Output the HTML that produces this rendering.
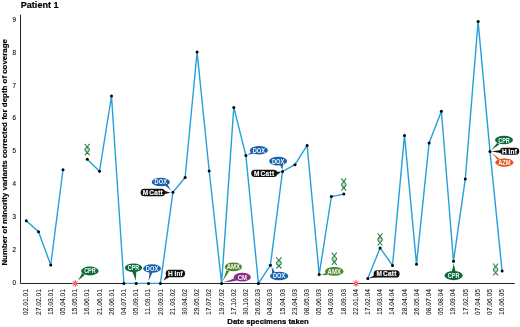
<!DOCTYPE html><html><head><meta charset="utf-8"><style>html,body{margin:0;padding:0;background:#fff;width:520px;height:327px;overflow:hidden}svg{display:block;will-change:transform}text{font-family:"Liberation Sans",sans-serif}</style></head><body>
<svg width="520" height="327" viewBox="0 0 520 327">
<text x="20.8" y="7.9" font-size="8.4" font-weight="bold" fill="#000" stroke="#000" stroke-width="0.2" textLength="37.7" lengthAdjust="spacingAndGlyphs">Patient 1</text>
<text transform="translate(6.8,265.6) rotate(-90)" font-size="6.9" font-weight="bold" fill="#000" stroke="#000" stroke-width="0.15" textLength="226.5" lengthAdjust="spacingAndGlyphs">Number of minority variants corrected for depth of coverage</text>
<text transform="translate(16.1,21.85) scale(0.85,1)" font-size="7.4" fill="#111" stroke="#111" stroke-width="0.15" text-anchor="end">9</text>
<text transform="translate(16.1,54.69) scale(0.85,1)" font-size="7.4" fill="#111" stroke="#111" stroke-width="0.15" text-anchor="end">8</text>
<text transform="translate(16.1,87.53) scale(0.85,1)" font-size="7.4" fill="#111" stroke="#111" stroke-width="0.15" text-anchor="end">7</text>
<text transform="translate(16.1,120.37) scale(0.85,1)" font-size="7.4" fill="#111" stroke="#111" stroke-width="0.15" text-anchor="end">6</text>
<text transform="translate(16.1,153.21) scale(0.85,1)" font-size="7.4" fill="#111" stroke="#111" stroke-width="0.15" text-anchor="end">5</text>
<text transform="translate(16.1,186.05) scale(0.85,1)" font-size="7.4" fill="#111" stroke="#111" stroke-width="0.15" text-anchor="end">4</text>
<text transform="translate(16.1,218.89) scale(0.85,1)" font-size="7.4" fill="#111" stroke="#111" stroke-width="0.15" text-anchor="end">3</text>
<text transform="translate(16.1,251.73) scale(0.85,1)" font-size="7.4" fill="#111" stroke="#111" stroke-width="0.15" text-anchor="end">2</text>
<text transform="translate(16.1,284.85) scale(0.85,1)" font-size="7.4" fill="#111" stroke="#111" stroke-width="0.15" text-anchor="end">0</text>
<path d="M20.5,14.7 V283.5 H514.8" fill="none" stroke="#222" stroke-width="1"/>
<text transform="translate(28.30,315.1) rotate(-90)" font-size="7.25" fill="#111" stroke="#111" stroke-width="0.05" textLength="26.2" lengthAdjust="spacingAndGlyphs">02.01.01</text>
<text transform="translate(40.50,315.1) rotate(-90)" font-size="7.25" fill="#111" stroke="#111" stroke-width="0.05" textLength="26.2" lengthAdjust="spacingAndGlyphs">27.02.01</text>
<text transform="translate(52.70,315.1) rotate(-90)" font-size="7.25" fill="#111" stroke="#111" stroke-width="0.05" textLength="26.2" lengthAdjust="spacingAndGlyphs">15.03.01</text>
<text transform="translate(64.90,315.1) rotate(-90)" font-size="7.25" fill="#111" stroke="#111" stroke-width="0.05" textLength="26.2" lengthAdjust="spacingAndGlyphs">05.04.01</text>
<text transform="translate(77.10,315.1) rotate(-90)" font-size="7.25" fill="#111" stroke="#111" stroke-width="0.05" textLength="26.2" lengthAdjust="spacingAndGlyphs">15.05.01</text>
<text transform="translate(89.30,315.1) rotate(-90)" font-size="7.25" fill="#111" stroke="#111" stroke-width="0.05" textLength="26.2" lengthAdjust="spacingAndGlyphs">16.06.01</text>
<text transform="translate(101.50,315.1) rotate(-90)" font-size="7.25" fill="#111" stroke="#111" stroke-width="0.05" textLength="26.2" lengthAdjust="spacingAndGlyphs">21.06.01</text>
<text transform="translate(113.70,315.1) rotate(-90)" font-size="7.25" fill="#111" stroke="#111" stroke-width="0.05" textLength="26.2" lengthAdjust="spacingAndGlyphs">26.06.01</text>
<text transform="translate(125.90,315.1) rotate(-90)" font-size="7.25" fill="#111" stroke="#111" stroke-width="0.05" textLength="26.2" lengthAdjust="spacingAndGlyphs">04.07.01</text>
<text transform="translate(138.10,315.1) rotate(-90)" font-size="7.25" fill="#111" stroke="#111" stroke-width="0.05" textLength="26.2" lengthAdjust="spacingAndGlyphs">05.09.01</text>
<text transform="translate(150.30,315.1) rotate(-90)" font-size="7.25" fill="#111" stroke="#111" stroke-width="0.05" textLength="26.2" lengthAdjust="spacingAndGlyphs">11.09.01</text>
<text transform="translate(162.50,315.1) rotate(-90)" font-size="7.25" fill="#111" stroke="#111" stroke-width="0.05" textLength="26.2" lengthAdjust="spacingAndGlyphs">20.09.01</text>
<text transform="translate(174.70,315.1) rotate(-90)" font-size="7.25" fill="#111" stroke="#111" stroke-width="0.05" textLength="26.2" lengthAdjust="spacingAndGlyphs">21.03.02</text>
<text transform="translate(186.90,315.1) rotate(-90)" font-size="7.25" fill="#111" stroke="#111" stroke-width="0.05" textLength="26.2" lengthAdjust="spacingAndGlyphs">30.04.02</text>
<text transform="translate(199.10,315.1) rotate(-90)" font-size="7.25" fill="#111" stroke="#111" stroke-width="0.05" textLength="26.2" lengthAdjust="spacingAndGlyphs">29.05.02</text>
<text transform="translate(211.30,315.1) rotate(-90)" font-size="7.25" fill="#111" stroke="#111" stroke-width="0.05" textLength="26.2" lengthAdjust="spacingAndGlyphs">17.07.02</text>
<text transform="translate(223.50,315.1) rotate(-90)" font-size="7.25" fill="#111" stroke="#111" stroke-width="0.05" textLength="26.2" lengthAdjust="spacingAndGlyphs">19.07.02</text>
<text transform="translate(235.70,315.1) rotate(-90)" font-size="7.25" fill="#111" stroke="#111" stroke-width="0.05" textLength="26.2" lengthAdjust="spacingAndGlyphs">17.10.02</text>
<text transform="translate(247.90,315.1) rotate(-90)" font-size="7.25" fill="#111" stroke="#111" stroke-width="0.05" textLength="26.2" lengthAdjust="spacingAndGlyphs">30.10.02</text>
<text transform="translate(260.10,315.1) rotate(-90)" font-size="7.25" fill="#111" stroke="#111" stroke-width="0.05" textLength="26.2" lengthAdjust="spacingAndGlyphs">26.02.03</text>
<text transform="translate(272.30,315.1) rotate(-90)" font-size="7.25" fill="#111" stroke="#111" stroke-width="0.05" textLength="26.2" lengthAdjust="spacingAndGlyphs">04.03.03</text>
<text transform="translate(284.50,315.1) rotate(-90)" font-size="7.25" fill="#111" stroke="#111" stroke-width="0.05" textLength="26.2" lengthAdjust="spacingAndGlyphs">15.04.03</text>
<text transform="translate(296.70,315.1) rotate(-90)" font-size="7.25" fill="#111" stroke="#111" stroke-width="0.05" textLength="26.2" lengthAdjust="spacingAndGlyphs">23.04.03</text>
<text transform="translate(308.90,315.1) rotate(-90)" font-size="7.25" fill="#111" stroke="#111" stroke-width="0.05" textLength="26.2" lengthAdjust="spacingAndGlyphs">08.05.03</text>
<text transform="translate(321.10,315.1) rotate(-90)" font-size="7.25" fill="#111" stroke="#111" stroke-width="0.05" textLength="26.2" lengthAdjust="spacingAndGlyphs">05.06.03</text>
<text transform="translate(333.30,315.1) rotate(-90)" font-size="7.25" fill="#111" stroke="#111" stroke-width="0.05" textLength="26.2" lengthAdjust="spacingAndGlyphs">04.09.03</text>
<text transform="translate(345.50,315.1) rotate(-90)" font-size="7.25" fill="#111" stroke="#111" stroke-width="0.05" textLength="26.2" lengthAdjust="spacingAndGlyphs">18.09.03</text>
<text transform="translate(357.70,315.1) rotate(-90)" font-size="7.25" fill="#111" stroke="#111" stroke-width="0.05" textLength="26.2" lengthAdjust="spacingAndGlyphs">22.01.04</text>
<text transform="translate(369.90,315.1) rotate(-90)" font-size="7.25" fill="#111" stroke="#111" stroke-width="0.05" textLength="26.2" lengthAdjust="spacingAndGlyphs">17.02.04</text>
<text transform="translate(382.10,315.1) rotate(-90)" font-size="7.25" fill="#111" stroke="#111" stroke-width="0.05" textLength="26.2" lengthAdjust="spacingAndGlyphs">15.03.04</text>
<text transform="translate(394.30,315.1) rotate(-90)" font-size="7.25" fill="#111" stroke="#111" stroke-width="0.05" textLength="26.2" lengthAdjust="spacingAndGlyphs">14.04.04</text>
<text transform="translate(406.50,315.1) rotate(-90)" font-size="7.25" fill="#111" stroke="#111" stroke-width="0.05" textLength="26.2" lengthAdjust="spacingAndGlyphs">28.04.04</text>
<text transform="translate(418.70,315.1) rotate(-90)" font-size="7.25" fill="#111" stroke="#111" stroke-width="0.05" textLength="26.2" lengthAdjust="spacingAndGlyphs">26.05.04</text>
<text transform="translate(430.90,315.1) rotate(-90)" font-size="7.25" fill="#111" stroke="#111" stroke-width="0.05" textLength="26.2" lengthAdjust="spacingAndGlyphs">08.07.04</text>
<text transform="translate(443.10,315.1) rotate(-90)" font-size="7.25" fill="#111" stroke="#111" stroke-width="0.05" textLength="26.2" lengthAdjust="spacingAndGlyphs">05.08.04</text>
<text transform="translate(455.30,315.1) rotate(-90)" font-size="7.25" fill="#111" stroke="#111" stroke-width="0.05" textLength="26.2" lengthAdjust="spacingAndGlyphs">19.09.04</text>
<text transform="translate(467.50,315.1) rotate(-90)" font-size="7.25" fill="#111" stroke="#111" stroke-width="0.05" textLength="26.2" lengthAdjust="spacingAndGlyphs">17.02.05</text>
<text transform="translate(479.70,315.1) rotate(-90)" font-size="7.25" fill="#111" stroke="#111" stroke-width="0.05" textLength="26.2" lengthAdjust="spacingAndGlyphs">07.04.05</text>
<text transform="translate(491.90,315.1) rotate(-90)" font-size="7.25" fill="#111" stroke="#111" stroke-width="0.05" textLength="26.2" lengthAdjust="spacingAndGlyphs">07.06.05</text>
<text transform="translate(504.10,315.1) rotate(-90)" font-size="7.25" fill="#111" stroke="#111" stroke-width="0.05" textLength="26.2" lengthAdjust="spacingAndGlyphs">16.06.05</text>
<text x="227.3" y="324.2" font-size="7.9" font-weight="bold" fill="#000" stroke="#000" stroke-width="0.2" textLength="81.5" lengthAdjust="spacingAndGlyphs">Date specimens taken</text>
<polyline points="26.25,220.75 38.5,231.75 50.75,265 63,169.75" fill="none" stroke="#25a0db" stroke-width="1.4" stroke-linejoin="miter"/>
<polyline points="87.25,159.25 99.5,171.25 111.5,96 123.9,283.4 136.2,283.4 148.5,283.4 160.4,283.4 172.9,192.3 185.1,177.5 197.1,52.1 209.2,171 221.6,283.4 233.8,107.4 245.9,155.6 258.4,283.4 270.4,265.3 282.5,171.5 295,164.7 307.1,145.4 319.2,274.6 331.4,196.5 343.8,194.1" fill="none" stroke="#25a0db" stroke-width="1.4" stroke-linejoin="miter"/>
<polyline points="367.8,278.5 380.1,247.9 392.5,265.5 404.5,135.4 416.5,264.3 429.1,143.0 441.4,111.3 453.5,261.2 465.3,178.9 478.1,21.6 490,151.4 502.1,271.1" fill="none" stroke="#25a0db" stroke-width="1.4" stroke-linejoin="miter"/>
<circle cx="26.25" cy="220.75" r="1.5" fill="#000"/>
<circle cx="38.5" cy="231.75" r="1.5" fill="#000"/>
<circle cx="50.75" cy="265" r="1.5" fill="#000"/>
<circle cx="63" cy="169.75" r="1.5" fill="#000"/>
<circle cx="87.25" cy="159.25" r="1.5" fill="#000"/>
<circle cx="99.5" cy="171.25" r="1.5" fill="#000"/>
<circle cx="111.5" cy="96" r="1.5" fill="#000"/>
<circle cx="123.9" cy="283.4" r="1.5" fill="#000"/>
<circle cx="136.2" cy="283.4" r="1.5" fill="#000"/>
<circle cx="148.5" cy="283.4" r="1.5" fill="#000"/>
<circle cx="160.4" cy="283.4" r="1.5" fill="#000"/>
<circle cx="172.9" cy="192.3" r="1.5" fill="#000"/>
<circle cx="185.1" cy="177.5" r="1.5" fill="#000"/>
<circle cx="197.1" cy="52.1" r="1.5" fill="#000"/>
<circle cx="209.2" cy="171" r="1.5" fill="#000"/>
<circle cx="221.6" cy="283.4" r="1.5" fill="#000"/>
<circle cx="233.8" cy="107.4" r="1.5" fill="#000"/>
<circle cx="245.9" cy="155.6" r="1.5" fill="#000"/>
<circle cx="258.4" cy="283.4" r="1.5" fill="#000"/>
<circle cx="270.4" cy="265.3" r="1.5" fill="#000"/>
<circle cx="282.5" cy="171.5" r="1.5" fill="#000"/>
<circle cx="295" cy="164.7" r="1.5" fill="#000"/>
<circle cx="307.1" cy="145.4" r="1.5" fill="#000"/>
<circle cx="319.2" cy="274.6" r="1.5" fill="#000"/>
<circle cx="331.4" cy="196.5" r="1.5" fill="#000"/>
<circle cx="343.8" cy="194.1" r="1.5" fill="#000"/>
<circle cx="367.8" cy="278.5" r="1.5" fill="#000"/>
<circle cx="380.1" cy="247.9" r="1.5" fill="#000"/>
<circle cx="392.5" cy="265.5" r="1.5" fill="#000"/>
<circle cx="404.5" cy="135.4" r="1.5" fill="#000"/>
<circle cx="416.5" cy="264.3" r="1.5" fill="#000"/>
<circle cx="429.1" cy="143.0" r="1.5" fill="#000"/>
<circle cx="441.4" cy="111.3" r="1.5" fill="#000"/>
<circle cx="453.5" cy="261.2" r="1.5" fill="#000"/>
<circle cx="465.3" cy="178.9" r="1.5" fill="#000"/>
<circle cx="478.1" cy="21.6" r="1.5" fill="#000"/>
<circle cx="490" cy="151.4" r="1.5" fill="#000"/>
<circle cx="502.1" cy="271.1" r="1.5" fill="#000"/>
<circle cx="75.2" cy="283.5" r="2.9000000000000004" fill="#fff"/><path d="M75.75,283.50 L78.40,283.50 M75.59,283.89 L77.46,285.76 M75.20,284.05 L75.20,286.70 M74.81,283.89 L72.94,285.76 M74.65,283.50 L72.00,283.50 M74.81,283.11 L72.94,281.24 M75.20,282.95 L75.20,280.30 M75.59,283.11 L77.46,281.24" stroke="#e42a3e" stroke-width="1.0" fill="none"/>
<circle cx="356.0" cy="283.5" r="2.9000000000000004" fill="#fff"/><path d="M356.55,283.50 L359.20,283.50 M356.39,283.89 L358.26,285.76 M356.00,284.05 L356.00,286.70 M355.61,283.89 L353.74,285.76 M355.45,283.50 L352.80,283.50 M355.61,283.11 L353.74,281.24 M356.00,282.95 L356.00,280.30 M356.39,283.11 L358.26,281.24" stroke="#e42a3e" stroke-width="1.0" fill="none"/>
<path d="M81.8,273.2 Q80.33,277.09 77.9,280.5 Q81.77,277.81 85,274.8 Z" fill="#0e6a3a"/><ellipse cx="89.85" cy="271.0" rx="8.8" ry="4.3999999999999995" fill="#0e6a3a"/><text x="89.85" y="273.45" font-size="6.6" font-weight="bold" fill="#f4f8ff" stroke="#f4f8ff" stroke-width="0" text-anchor="middle" textLength="11.4" lengthAdjust="spacingAndGlyphs">CPR</text>
<path d="M132,271.3 Q134.40,276.05 135.5,280.8 Q136.33,276.05 136.3,271.3 Z" fill="#0e6a3a"/><ellipse cx="133.5" cy="267.75" rx="8.7" ry="4.35" fill="#0e6a3a"/><text x="133.5" y="270.20" font-size="6.6" font-weight="bold" fill="#f4f8ff" stroke="#f4f8ff" stroke-width="0" text-anchor="middle" textLength="11.4" lengthAdjust="spacingAndGlyphs">CPR</text>
<path d="M149.4,272 Q149.41,276.43 148.5,280.8 Q150.81,276.52 152.5,272.2 Z" fill="#1862ad"/><ellipse cx="152.05" cy="268.55" rx="8.9" ry="4.3" fill="#1862ad"/><text x="152.05" y="271.00" font-size="6.6" font-weight="bold" fill="#f4f8ff" stroke="#f4f8ff" stroke-width="0" text-anchor="middle" textLength="12.4" lengthAdjust="spacingAndGlyphs">DOX</text>
<path d="M166.2,275.5 Q165.19,278.28 163.2,280.6 Q166.68,278.95 169.5,277 Z" fill="#111"/><rect x="165.7" y="269.8" width="19.40" height="7.50" rx="3.75" ry="3.75" fill="#111"/><text x="175.40" y="275.95" font-size="6.5" font-weight="bold" fill="#fff" stroke="#fff" stroke-width="0.1" style="word-spacing:-0.4px;letter-spacing:0.2px" text-anchor="middle">H Inf</text>
<path d="M164.5,185 Q168.20,187.83 171,190.8 Q169.55,187.60 167.5,184.5 Z" fill="#1862ad"/><ellipse cx="160.8" cy="181.95" rx="9.1" ry="4.3" fill="#1862ad"/><text x="160.8" y="184.40" font-size="6.6" font-weight="bold" fill="#f4f8ff" stroke="#f4f8ff" stroke-width="0" text-anchor="middle" textLength="12.4" lengthAdjust="spacingAndGlyphs">DOX</text>
<path d="M164.5,190.8 Q167.45,192.13 170.4,192.5 Q167.45,193.57 164.5,194 Z" fill="#111"/><rect x="140.6" y="188.8" width="24.60" height="7.40" rx="3.70" ry="3.70" fill="#111"/><text x="152.90" y="194.90" font-size="6.5" font-weight="bold" fill="#fff" stroke="#fff" stroke-width="0.1" style="word-spacing:-1.3px;letter-spacing:0.3px" text-anchor="middle">M Catt</text>
<path d="M226.4,270.3 Q224.90,275.91 222.5,281.3 Q226.25,276.22 229.4,271 Z" fill="#4e8a2c"/><ellipse cx="233.4" cy="266.95" rx="8.6" ry="4.35" fill="#4e8a2c"/><text x="233.4" y="269.40" font-size="6.6" font-weight="bold" fill="#f4f8ff" stroke="#f4f8ff" stroke-width="0" text-anchor="middle" textLength="13.4" lengthAdjust="spacingAndGlyphs">AMX</text>
<path d="M234.5,278.2 Q229.30,280.57 223.5,282.2 Q230.20,281.70 236.5,280.7 Z" fill="#8d2b88"/><ellipse cx="242.3" cy="277.2" rx="8.5" ry="4.35" fill="#8d2b88"/><text x="242.3" y="279.65" font-size="6.6" font-weight="bold" fill="#f4f8ff" stroke="#f4f8ff" stroke-width="0" text-anchor="middle" textLength="9.2" lengthAdjust="spacingAndGlyphs">CM</text>
<path d="M251,152 Q249.62,153.74 247.5,155 Q250.75,154.46 253.5,153.6 Z" fill="#1862ad"/><ellipse cx="258.9" cy="150.25" rx="9.0" ry="4.25" fill="#1862ad"/><text x="258.9" y="152.70" font-size="6.6" font-weight="bold" fill="#f4f8ff" stroke="#f4f8ff" stroke-width="0" text-anchor="middle" textLength="12.4" lengthAdjust="spacingAndGlyphs">DOX</text>
<path d="M280,164.8 Q281.60,167.33 282.3,170 Q282.95,167.10 283,164.3 Z" fill="#1862ad"/><ellipse cx="278.1" cy="161.1" rx="9.0" ry="4.3" fill="#1862ad"/><text x="278.1" y="163.55" font-size="6.6" font-weight="bold" fill="#f4f8ff" stroke="#f4f8ff" stroke-width="0" text-anchor="middle" textLength="12.4" lengthAdjust="spacingAndGlyphs">DOX</text>
<path d="M276.5,171.5 Q279.00,172.08 281.5,171.6 Q279.00,173.65 276.5,175 Z" fill="#111"/><rect x="251.2" y="169.7" width="26.10" height="7.30" rx="3.65" ry="3.65" fill="#111"/><text x="264.25" y="175.75" font-size="6.5" font-weight="bold" fill="#fff" stroke="#fff" stroke-width="0.1" style="word-spacing:-1.3px;letter-spacing:0.3px" text-anchor="middle">M Catt</text>
<path d="M272,273.6 Q272.15,269.88 271.4,266.5 Q273.50,269.39 275,272.5 Z" fill="#1862ad"/><ellipse cx="279.1" cy="276.0" rx="9.2" ry="4.25" fill="#1862ad"/><text x="279.1" y="278.45" font-size="6.6" font-weight="bold" fill="#f4f8ff" stroke="#f4f8ff" stroke-width="0" text-anchor="middle" textLength="12.4" lengthAdjust="spacingAndGlyphs">DOX</text>
<path d="M326,272.8 Q323.48,274.16 320.5,274.8 Q324.15,275.24 327.5,275.2 Z" fill="#4e8a2c"/><ellipse cx="334.3" cy="271.4" rx="9.3" ry="4.3999999999999995" fill="#4e8a2c"/><text x="334.3" y="273.85" font-size="6.6" font-weight="bold" fill="#f4f8ff" stroke="#f4f8ff" stroke-width="0" text-anchor="middle" textLength="13.4" lengthAdjust="spacingAndGlyphs">AMX</text>
<path d="M374.5,275 Q372.02,277.00 368.8,278.3 Q373.15,278.03 377,277.3 Z" fill="#111"/><rect x="373.6" y="270.3" width="26.00" height="7.20" rx="3.60" ry="3.60" fill="#111"/><text x="386.60" y="276.30" font-size="6.5" font-weight="bold" fill="#fff" stroke="#fff" stroke-width="0.1" style="word-spacing:-1.3px;letter-spacing:0.3px" text-anchor="middle">M Catt</text>
<path d="M451.6,271.8 Q453.13,267.65 453.5,263.5 Q454.89,267.65 455.5,271.8 Z" fill="#0e6a3a"/><ellipse cx="453.6" cy="275.6" rx="9.1" ry="4.6" fill="#0e6a3a"/><text x="453.6" y="278.05" font-size="6.6" font-weight="bold" fill="#f4f8ff" stroke="#f4f8ff" stroke-width="0" text-anchor="middle" textLength="11.6" lengthAdjust="spacingAndGlyphs">CPR</text>
<path d="M497,143 Q494.38,146.83 491,150.3 Q495.50,147.37 499.5,144.2 Z" fill="#0e6a3a"/><ellipse cx="504.0" cy="140.1" rx="8.95" ry="4.25" fill="#0e6a3a"/><text x="504.0" y="142.55" font-size="6.6" font-weight="bold" fill="#f4f8ff" stroke="#f4f8ff" stroke-width="0" text-anchor="middle" textLength="11.6" lengthAdjust="spacingAndGlyphs">CPR</text>
<path d="M500.5,150 Q496.00,151.10 491.5,151.3 Q496.00,152.45 500.5,153 Z" fill="#111"/><rect x="500.0" y="147.8" width="19.25" height="6.90" rx="3.45" ry="3.45" fill="#111"/><text x="509.62" y="153.65" font-size="6.5" font-weight="bold" fill="#fff" stroke="#fff" stroke-width="0.1" style="word-spacing:-0.4px;letter-spacing:0.2px" text-anchor="middle">H Inf</text>
<path d="M497.5,159.8 Q494.62,156.11 491,152.6 Q495.75,155.84 500,159.2 Z" fill="#e2561e"/><ellipse cx="504.4" cy="162.6" rx="9.1" ry="4.1" fill="#e2561e"/><text x="504.4" y="165.05" font-size="6.6" font-weight="bold" fill="#f4f8ff" stroke="#f4f8ff" stroke-width="0" text-anchor="middle" textLength="12.4" lengthAdjust="spacingAndGlyphs">AZM</text>
<ellipse cx="87.20" cy="149.73" rx="1.69" ry="2.05" fill="#b2e4c0"/><path d="M84.80,143.80 L87.20,146.99 C88.55,148.22 89.46,148.50 89.46,149.73 C89.46,150.96 88.55,151.23 87.20,152.46 L84.80,155.20 M89.60,143.80 L87.20,146.99 C85.85,148.22 84.94,148.50 84.94,149.73 C84.94,150.96 85.85,151.23 87.20,152.46 L89.60,155.20" fill="none" stroke="#2a8048" stroke-width="1.1" stroke-linejoin="round"/>
<ellipse cx="278.90" cy="263.17" rx="1.83" ry="2.00" fill="#b2e4c0"/><path d="M276.30,257.40 L278.90,260.51 C280.37,261.71 281.34,261.97 281.34,263.17 C281.34,264.37 280.37,264.64 278.90,265.84 L276.30,268.50 M281.50,257.40 L278.90,260.51 C277.43,261.71 276.46,261.97 276.46,263.17 C276.46,264.37 277.43,264.64 278.90,265.84 L281.50,268.50" fill="none" stroke="#2a8048" stroke-width="1.1" stroke-linejoin="round"/>
<ellipse cx="334.30" cy="258.94" rx="1.69" ry="2.20" fill="#b2e4c0"/><path d="M331.90,252.60 L334.30,256.02 C335.65,257.33 336.56,257.63 336.56,258.94 C336.56,260.26 335.65,260.55 334.30,261.87 L331.90,264.80 M336.70,252.60 L334.30,256.02 C332.95,257.33 332.04,257.63 332.04,258.94 C332.04,260.26 332.95,260.55 334.30,261.87 L336.70,264.80" fill="none" stroke="#2a8048" stroke-width="1.1" stroke-linejoin="round"/>
<ellipse cx="343.80" cy="184.74" rx="1.69" ry="2.20" fill="#b2e4c0"/><path d="M341.40,178.40 L343.80,181.82 C345.15,183.13 346.06,183.43 346.06,184.74 C346.06,186.06 345.15,186.35 343.80,187.67 L341.40,190.60 M346.20,178.40 L343.80,181.82 C342.45,183.13 341.54,183.43 341.54,184.74 C341.54,186.06 342.45,186.35 343.80,187.67 L346.20,190.60" fill="none" stroke="#2a8048" stroke-width="1.1" stroke-linejoin="round"/>
<ellipse cx="380.10" cy="239.60" rx="1.69" ry="2.21" fill="#b2e4c0"/><path d="M377.70,233.20 L380.10,236.64 C381.45,237.97 382.36,238.27 382.36,239.60 C382.36,240.92 381.45,241.22 380.10,242.55 L377.70,245.50 M382.50,233.20 L380.10,236.64 C378.75,237.97 377.84,238.27 377.84,239.60 C377.84,240.92 378.75,241.22 380.10,242.55 L382.50,245.50" fill="none" stroke="#2a8048" stroke-width="1.1" stroke-linejoin="round"/>
<ellipse cx="495.60" cy="269.69" rx="1.69" ry="2.14" fill="#b2e4c0"/><path d="M493.20,263.50 L495.60,266.83 C496.95,268.12 497.86,268.40 497.86,269.69 C497.86,270.97 496.95,271.26 495.60,272.54 L493.20,275.40 M498.00,263.50 L495.60,266.83 C494.25,268.12 493.34,268.40 493.34,269.69 C493.34,270.97 494.25,271.26 495.60,272.54 L498.00,275.40" fill="none" stroke="#2a8048" stroke-width="1.1" stroke-linejoin="round"/>
</svg></body></html>
